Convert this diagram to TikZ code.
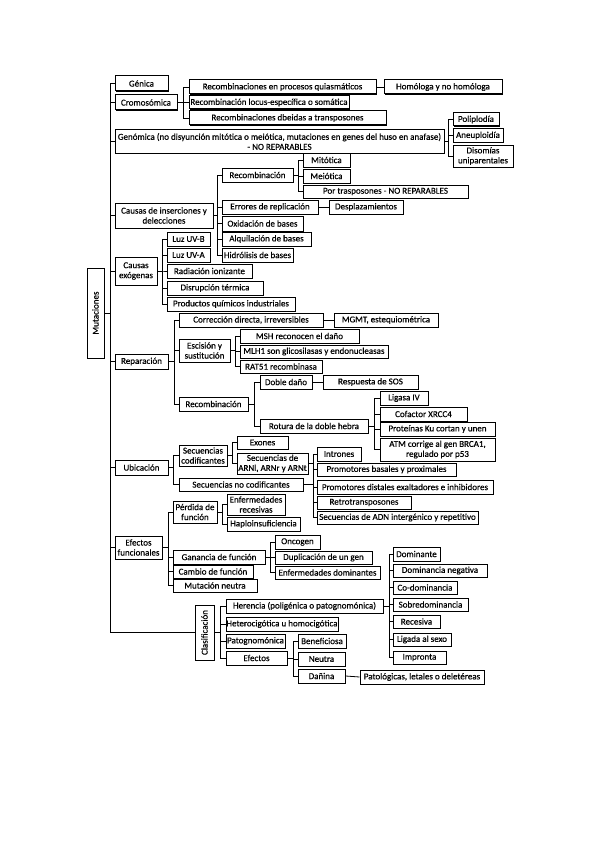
\documentclass[tikz,border=0pt]{standalone}
\usepackage{fontspec}
\usepackage{graphicx}
\setmainfont{Carlito}[UprightFeatures={FakeBold=0.4}]
\usetikzlibrary{shadows}
\tikzset{
  bx/.style={draw, line width=1pt, fill=white, inner sep=0pt, align=center,
    font=\fontsize{9}{10}\selectfont,
    drop shadow={shadow xshift=0.6pt, shadow yshift=-0.6pt, opacity=1, fill=black}},
  ln/.style={line width=0.8pt},
}
\newcommand{\bx}[6]{\node[bx, minimum width={(#4-#2)*1pt}, minimum height={(#5-#3)*1pt}] (#1) at ({(#2+#4)/2},{(#3+#5)/2}) {#6};}
\newcommand{\br}[3]{\draw[ln] (#1.east) -- (#1.east -| #2) |- (#3.west);}
\begin{document}
\begin{tikzpicture}[x=1pt,y=-1pt]
\useasboundingbox (0,0) rectangle (599,848);
% bars
\coordinate (b0) at (110,0);
\coordinate (bC) at (183,0);
\coordinate (bG) at (448,0);
\coordinate (bD) at (217,0);
\coordinate (bR) at (298,0);
\coordinate (bE) at (162,0);
\coordinate (bP) at (174,0);
\coordinate (bS) at (235,0);
\coordinate (bQ) at (254,0);
\coordinate (bT) at (374,0);
\coordinate (bU) at (173,0);
\coordinate (bK) at (232,0);
\coordinate (bI) at (313,0);
\coordinate (bF) at (168,0);
\coordinate (bPe) at (222,0);
\coordinate (bGa) at (270,0);
\coordinate (bL) at (220,0);
\coordinate (bH) at (389,0);
\coordinate (bEf) at (293,0);
% nodes
\bx{mut}{87}{268}{104}{358}{\rotatebox{90}{Mutaciones}}
\bx{gen}{115}{76}{168}{91}{Génica}
\bx{cro}{115}{95}{177}{110}{Cromosómica}
\bx{rq}{189}{80}{376}{94}{Recombinaciones en procesos quiasmáticos}
\bx{hom}{384}{80}{502}{94}{Homóloga y no homóloga}
\bx{rl}{189}{96}{349}{109}{Recombinación locus-específica o somática}
\bx{rt}{189}{111}{386}{125}{Recombinaciones dbeidas a transposones}
\bx{geno}{115}{130}{444}{153}{Genómica (no disyunción mitótica o meiótica, mutaciones en genes del huso en anafase)\\- NO REPARABLES}
\bx{pol}{453}{113}{499}{126}{Poliplodía}
\bx{ane}{453}{129}{503}{142}{Aneuploidía}
\bx{dis}{453}{145}{513}{167}{Disomías\\uniparentales}
\bx{cid}{115}{203}{213}{228}{Causas de inserciones y\\delecciones}
\bx{rec1}{222}{168}{293}{182}{Recombinación}
\bx{mit}{303}{153}{350}{167}{Mitótica}
\bx{mei}{303}{169}{350}{183}{Meiótica}
\bx{ptr}{303}{185}{468}{198}{Por trasposones - NO REPARABLES}
\bx{err}{222}{200}{318}{214}{Errores de replicación}
\bx{des}{329}{200}{403}{214}{Desplazamientos}
\bx{oxi}{222}{216}{303}{231}{Oxidación de bases}
\bx{alq}{222}{232}{311}{246}{Alquilación de bases}
\bx{hid}{222}{248}{293}{262}{Hidrólisis de bases}
\bx{cex}{115}{257}{157}{285}{Causas\\exógenas}
\bx{uvb}{167}{232}{210}{246}{Luz UV-B}
\bx{uva}{167}{248}{210}{262}{Luz UV-A}
\bx{rad}{167}{264}{252}{278}{Radiación ionizante}
\bx{dtr}{167}{281}{263}{295}{Disrupción térmica}
\bx{pqi}{167}{297}{295}{311}{Productos químicos industriales}
\bx{rep}{115}{354}{168}{369}{Reparación}
\bx{cor}{179}{313}{323}{327}{Corrección directa, irreversibles}
\bx{mgmt}{334}{313}{438}{327}{MGMT, estequiométrica}
\bx{esc}{179}{339}{230}{362}{Escisión y\\sustitución}
\bx{msh}{240}{329}{359}{343}{MSH reconocen el daño}
\bx{mlh}{240}{345}{388}{358}{MLH1 son glicosilasas y endonucleasas}
\bx{rat}{240}{360}{322}{373}{RAT51 recombinasa}
\bx{rec2}{179}{397}{248}{411}{Recombinación}
\bx{dob}{260}{375}{312}{389}{Doble daño}
\bx{sos}{323}{375}{418}{389}{Respuesta de SOS}
\bx{rot}{260}{419}{368}{433}{Rotura de la doble hebra}
\bx{lig}{380}{391}{428}{405}{Ligasa IV}
\bx{cof}{380}{407}{467}{421}{Cofactor XRCC4}
\bx{pku}{380}{422}{495}{436}{Proteínas Ku cortan y unen}
\bx{atm}{380}{438}{495}{461}{ATM corrige al gen BRCA1,\\regulado por p53}
\bx{ubi}{115}{460}{168}{475}{Ubicación}
\bx{sco}{179}{445}{227}{466}{Secuencias\\codificantes}
\bx{exo}{237}{436}{288}{449}{Exones}
\bx{arn}{237}{453}{308}{474}{Secuencias de\\ARNl, ARNr y ARNt}
\bx{snc}{179}{478}{303}{491}{Secuencias no codificantes}
\bx{int}{317}{447}{361}{461}{Intrones}
\bx{pbp}{317}{463}{456}{476}{Promotores basales y proximales}
\bx{pdi}{317}{480}{493}{494}{Promotores distales exaltadores e inhibidores}
\bx{ret}{317}{496}{411}{509}{Retrotransposones}
\bx{sadn}{317}{511}{478}{524}{Secuencias de ADN intergénico y repetitivo}
\bx{efu}{115}{536}{162}{559}{Efectos\\funcionales}
\bx{per}{173}{501}{217}{523}{Pérdida de\\función}
\bx{enr}{227}{494}{285}{515}{Enfermedades\\recesivas}
\bx{hap}{227}{517}{300}{531}{Haploinsuficiencia}
\bx{gan}{173}{550}{265}{564}{Ganancia de función}
\bx{onc}{275}{535}{320}{549}{Oncogen}
\bx{dup}{275}{551}{372}{564}{Duplicación de un gen}
\bx{edo}{275}{566}{380}{579}{Enfermedades dominantes}
\bx{cam}{173}{565}{253}{578}{Cambio de función}
\bx{mneu}{173}{579}{257}{592}{Mutación neutra}
\bx{cla}{195}{605}{214}{660}{\rotatebox{90}{Clasificación}}
\bx{her}{226}{599}{383}{613}{Herencia (poligénica o patognomónica)}
\bx{dom}{393}{547}{440}{561}{Dominante}
\bx{dne}{393}{564}{487}{577}{Dominancia negativa}
\bx{cod}{393}{581}{457}{594}{Co-dominancia}
\bx{sob}{393}{598}{468}{611}{Sobredominancia}
\bx{res}{393}{615}{440}{628}{Recesiva}
\bx{lsx}{393}{633}{451}{646}{Ligada al sexo}
\bx{imp}{393}{651}{446}{664}{Impronta}
\bx{het}{226}{617}{338}{631}{Heterocigótica u homocigótica}
\bx{pat}{226}{634}{285}{648}{Patognomónica}
\bx{efe}{226}{651}{287}{665}{Efectos}
\bx{ben}{298}{634}{346}{648}{Beneficiosa}
\bx{neu}{298}{652}{345}{666}{Neutra}
\bx{dan}{298}{669}{345}{683}{Dañina}
\bx{pld}{360}{670}{484}{684}{Patológicas, letales o deletéreas}
% connectors
\foreach \c in {gen,cro,geno,cid,cex,rep,ubi,efu,cla} {\br{mut}{b0}{\c}}
\foreach \c in {rq,rl,rt} {\br{cro}{bC}{\c}}
\draw[ln] (rq.east) -- (hom.west);
\foreach \c in {pol,ane,dis} {\br{geno}{bG}{\c}}
\foreach \c in {rec1,err,oxi,alq,hid} {\br{cid}{bD}{\c}}
\foreach \c in {mit,mei,ptr} {\br{rec1}{bR}{\c}}
\draw[ln] (err.east) -- (des.west);
\foreach \c in {uvb,uva,rad,dtr,pqi} {\br{cex}{bE}{\c}}
\foreach \c in {cor,esc,rec2} {\br{rep}{bP}{\c}}
\draw[ln] (cor.east) -- (mgmt.west);
\foreach \c in {msh,mlh,rat} {\br{esc}{bS}{\c}}
\foreach \c in {dob,rot} {\br{rec2}{bQ}{\c}}
\draw[ln] (dob.east) -- (sos.west);
\foreach \c in {lig,cof,pku,atm} {\br{rot}{bT}{\c}}
\foreach \c in {sco,snc} {\br{ubi}{bU}{\c}}
\foreach \c in {exo,arn} {\br{sco}{bK}{\c}}
\foreach \c in {int,pbp,pdi,ret,sadn} {\br{arn}{bI}{\c}}
\foreach \c in {int,pbp,pdi,ret,sadn} {\br{snc}{bI}{\c}}
\foreach \c in {per,gan,cam,mneu} {\br{efu}{bF}{\c}}
\foreach \c in {enr,hap} {\br{per}{bPe}{\c}}
\foreach \c in {onc,dup,edo} {\br{gan}{bGa}{\c}}
\foreach \c in {her,het,pat,efe} {\br{cla}{bL}{\c}}
\foreach \c in {dom,dne,cod,sob,res,lsx,imp} {\br{her}{bH}{\c}}
\foreach \c in {ben,neu,dan} {\br{efe}{bEf}{\c}}
\draw[ln] (dan.east) -- (pld.west);
\end{tikzpicture}
\end{document}
